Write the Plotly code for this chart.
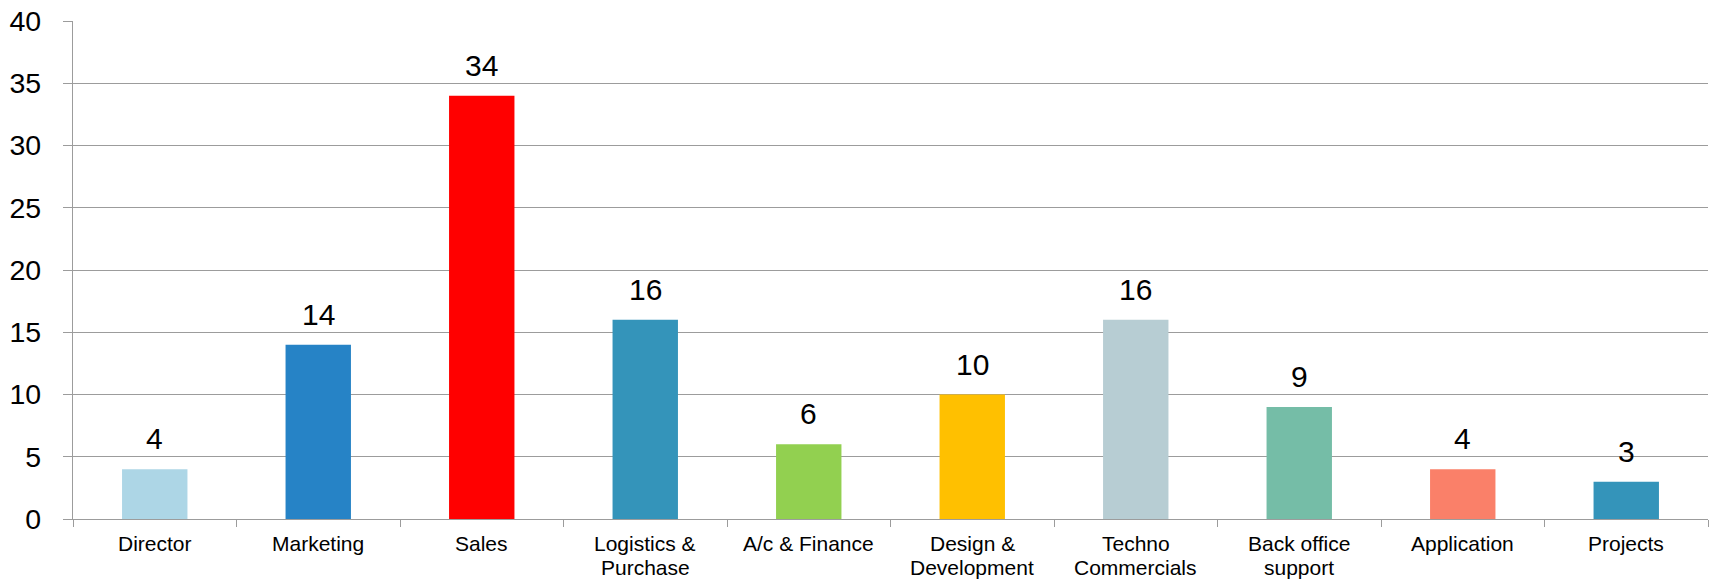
import plotly.graph_objects as go

categories = ["Director", "Marketing", "Sales", "Logistics & Purchase", "A/c & Finance",
              "Design & Development", "Techno Commercials", "Back office support",
              "Application", "Projects"]
label_lines = [["Director"], ["Marketing"], ["Sales"], ["Logistics &", "Purchase"],
               ["A/c & Finance"], ["Design &", "Development"], ["Techno", "Commercials"],
               ["Back office", "support"], ["Application"], ["Projects"]]
values = [4, 14, 34, 16, 6, 10, 16, 9, 4, 3]
colors = ["#ADD6E6", "#2683C6", "#FF0000", "#3494BA", "#92D050",
          "#FFC000", "#B7CDD3", "#75BDA7", "#FA8069", "#3494BA"]
y_ticks = [0, 5, 10, 15, 20, 25, 30, 35, 40]

FONT = "Liberation Sans, Arial, sans-serif"
GRID = "#9c9c9c"

fig = go.Figure(go.Bar(
    x=categories, y=values,
    marker=dict(color=colors, line=dict(width=0)),
    width=0.4, hoverinfo="x+y",
))

for c, v in zip(categories, values):
    fig.add_annotation(x=c, y=v, text=str(v), showarrow=False,
                       xanchor="center", yanchor="bottom", yshift=12,
                       font=dict(size=30, color="black", family=FONT))

for c, lines in zip(categories, label_lines):
    for i, line in enumerate(lines):
        fig.add_annotation(x=c, xref="x", y=0, yref="paper", text=line,
                           showarrow=False, xanchor="center", yanchor="top",
                           yshift=-11 - 24 * i,
                           font=dict(size=21, color="black", family=FONT))

fig.update_layout(
    width=1711, height=582,
    margin=dict(l=73, r=3, t=21, b=63),
    plot_bgcolor="white", paper_bgcolor="white",
    showlegend=False,
    font=dict(family=FONT, color="black"),
)
fig.update_xaxes(
    showline=True, linecolor=GRID, linewidth=1.3,
    ticks="outside", tickson="boundaries", ticklen=7, tickcolor=GRID, tickwidth=1.3,
    showticklabels=False,
    automargin=False, showgrid=False,
)
fig.update_yaxes(
    range=[0, 40], tickvals=y_ticks,
    showgrid=True, gridcolor=GRID, gridwidth=1.3,
    showline=True, linecolor=GRID, linewidth=1.3,
    ticks="outside", ticklen=9, tickcolor=GRID, tickwidth=1.3,
    tickfont=dict(size=28.5, color="black", family=FONT),
    ticklabelstandoff=16,
    automargin=False, zeroline=False,
)

fig.write_html("out.html", config={"displayModeBar": False},
               post_script="document.body.style.margin='0';document.body.style.overflow='hidden';")
